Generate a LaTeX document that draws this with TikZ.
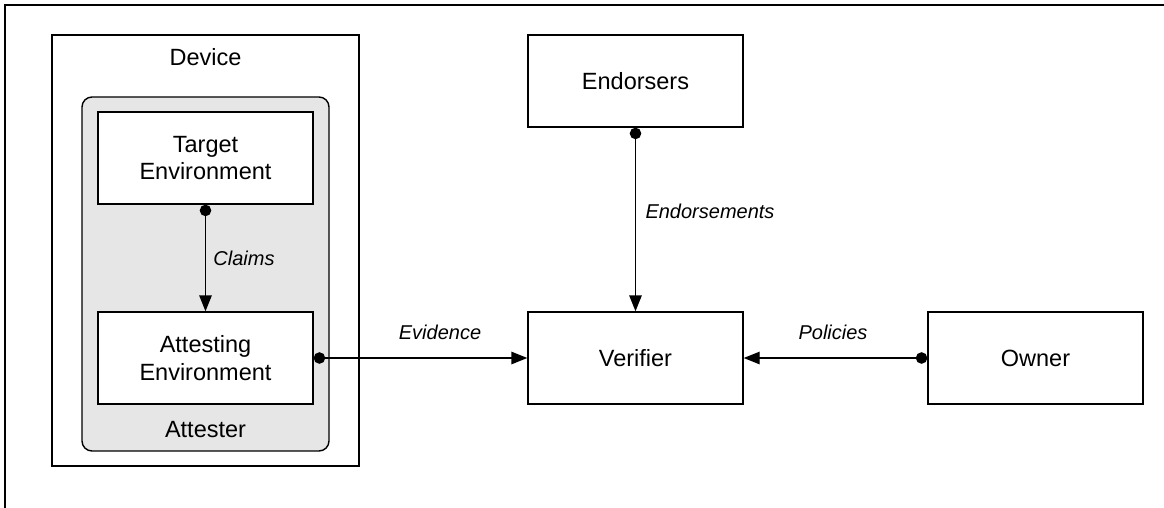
\documentclass[tikz,border=0pt]{standalone}
\usepackage{fontspec}
\setmainfont{Liberation Sans}
\usetikzlibrary{arrows.meta}
\definecolor{attgray}{HTML}{E6E6E6}
\tikzset{
  box/.style={draw=black, line width=1.4pt, fill=white, minimum width=215pt, minimum height=92pt, align=center, inner sep=0pt, font=\fontsize{23.5}{27.5}\selectfont},
  title/.style={inner sep=0pt, font=\fontsize{23.5}{27.5}\selectfont},
  lab/.style={inner sep=0pt, font=\fontsize{20}{24}\selectfont\itshape},
  conn/.style={line width=1.4pt, {Circle[length=11.5pt]}-{Triangle[length=16pt,width=12.5pt]}},
}
\begin{document}
\begin{tikzpicture}[x=1pt,y=-1pt]
\useasboundingbox (0,0) rectangle (1164,508);
\draw[line width=1.5pt] (5,508) -- (5,5) -- (1164,5);
% Device
\node[draw=black, line width=1.4pt, minimum width=307pt, minimum height=431pt, inner sep=0pt] (device) at (205.5,250.5) {};
\node[title] (devlabel) at (205.5,57) {Device};
% Attester
\node[draw=black, line width=1.4pt, fill=attgray, rounded corners=10pt, minimum width=247pt, minimum height=354pt, inner sep=0pt] (attester) at (205.5,274) {};
\node[title] (attlabel) at (205.5,430) {Attester};
% Boxes
\node[box] (target) at (205.5,158) {Target\\Environment};
\node[box] (attesting) at (205.5,358) {Attesting\\Environment};
\node[box] (endorsers) at (635.5,81) {Endorsers};
\node[box] (verifier) at (635.5,358) {Verifier};
\node[box] (owner) at (1035.5,358) {Owner};
% Connectors
\draw[conn] (target.south) -- (attesting.north);
\node[lab] (claims) at (244,258) {Claims};
\draw[conn] (attesting.east) -- (verifier.west);
\node[lab] (evidence) at (440,332) {Evidence};
\draw[conn] (endorsers.south) -- (verifier.north);
\node[lab] (endorsements) at (710,211) {Endorsements};
\draw[conn] (owner.west) -- (verifier.east);
\node[lab] (policies) at (833,332) {Policies};
\end{tikzpicture}
\end{document}
